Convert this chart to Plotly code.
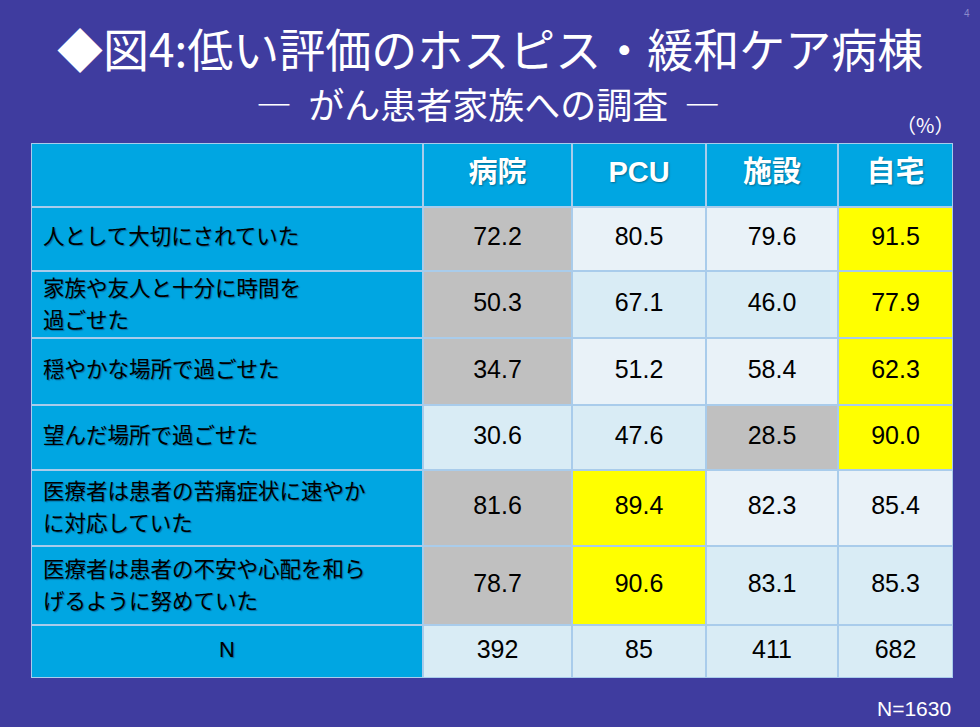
import plotly.graph_objects as go
from itertools import accumulate

# ---- data ----
columns = ["病院", "PCU", "施設", "自宅"]
items = [
    "人として大切にされていた",
    "家族や友人と十分に時間を<br>過ごせた",
    "穏やかな場所で過ごせた",
    "望んだ場所で過ごせた",
    "医療者は患者の苦痛症状に速やか<br>に対応していた",
    "医療者は患者の不安や心配を和ら<br>げるように努めていた",
]
hospital = [72.2, 50.3, 34.7, 30.6, 81.6, 78.7]
pcu = [80.5, 67.1, 51.2, 47.6, 89.4, 90.6]
facility = [79.6, 46.0, 58.4, 28.5, 82.3, 83.1]
home = [91.5, 77.9, 62.3, 90.0, 85.4, 85.3]
n_counts = [392, 85, 411, 682]
total_n = 1630
# highlighted (low = gray, high = yellow) column index per item row
low_col = [0, 0, 0, 2, 0, 0]
high_col = [3, 3, 3, 3, 1, 1]

# ---- layout / styling ----
W, H = 980, 727
TX0, TX1, TY0, TY1 = 31, 953, 143, 678
col_w = [392, 149, 134, 132, 115]
row_h = [64, 64, 67, 67, 65, 76, 79, 53]
LABEL_SIZE = 21.5
LINE_GAP = 32

BG = "#3F3C9F"
HEAD = "#00A6E2"
PALE = "#E9F2F8"
BAND = "#D9ECF5"
GRAY = "#C0C0C0"
YELLOW = "#FFFF00"
BORDER = "#A9CCEB"
palette = [HEAD, PALE, BAND, GRAY, YELLOW]

series = [hospital, pcu, facility, home]
nrows = len(items)

x_edges = [0] + list(accumulate(col_w))
y_edges = [0] + list(accumulate(row_h))
xc = [(x_edges[i] + x_edges[i + 1]) / 2 for i in range(len(col_w))]
yc = [(y_edges[i] + y_edges[i + 1]) / 2 for i in range(len(row_h))]

# colour codes for every cell
z = [[0] * len(col_w)]  # header row
for r in range(nrows):
    row = [0]
    for c in range(len(series)):
        if c == low_col[r]:
            row.append(3)
        elif c == high_col[r]:
            row.append(4)
        else:
            row.append(1 if r % 2 == 0 else 2)
    z.append(row)
z.append([0] + [2] * len(series))

n = len(palette) - 1
cscale = []
for i, col in enumerate(palette):
    lo = max(0, (i - 0.5) / n)
    hi = min(1, (i + 0.5) / n)
    cscale += [[lo, col], [hi, col]]

fig = go.Figure()
fig.add_trace(go.Heatmap(
    x=x_edges, y=y_edges, z=z,
    colorscale=cscale, zmin=0, zmax=n, showscale=False,
    xgap=2, ygap=2, hoverinfo="skip",
))

# header text
fig.add_trace(go.Scatter(
    x=xc[1:], y=[yc[0]] * len(columns), mode="text",
    text=[f"<b>{c}</b>" for c in columns], textposition="middle center",
    textfont=dict(family="Liberation Sans, Noto Sans CJK JP", size=29, color="white",
                  shadow="1px 1px 2px rgba(0,0,0,0.35)"),
    hoverinfo="skip", showlegend=False,
))

# value text
vx, vy, vt = [], [], []
for c, s in enumerate(series):
    for r in range(nrows):
        vx.append(xc[c + 1]); vy.append(yc[r + 1]); vt.append(f"{s[r]:.1f}")
    vx.append(xc[c + 1]); vy.append(yc[-1]); vt.append(str(n_counts[c]))
fig.add_trace(go.Scatter(
    x=vx, y=vy, mode="text", text=vt, textposition="middle center",
    textfont=dict(family="Liberation Sans, Arial", size=25, color="black"),
    hoverinfo="skip", showlegend=False,
))

# row labels (each line of a wrapped label as its own text)
lx, ly, lt = [], [], []
for r, label in enumerate(items):
    lines = label.split("<br>")
    k = len(lines)
    for j, line in enumerate(lines):
        lx.append(x_edges[0] + 12)
        ly.append(yc[r + 1] + (j - (k - 1) / 2) * LINE_GAP + (2 if k > 1 else 0))
        lt.append(line)
fig.add_trace(go.Scatter(
    x=lx, y=ly, mode="text", text=lt, textposition="middle right",
    textfont=dict(family="Noto Sans CJK JP", size=LABEL_SIZE, color="black",
                  shadow="1px 1px 1px rgba(0,40,80,0.45)"),
    hoverinfo="skip", showlegend=False,
))
fig.add_trace(go.Scatter(
    x=[xc[0]], y=[yc[-1]], mode="text", text=["N"], textposition="middle center",
    textfont=dict(family="Liberation Sans, Arial", size=22, color="black",
                  shadow="1px 1px 1px rgba(0,40,80,0.45)"),
    hoverinfo="skip", showlegend=False,
))

fig.add_annotation(text="◆図4:低い評価のホスピス・緩和ケア病棟", x=490 / W, y=1 - 47 / H,
                   xref="paper", yref="paper", showarrow=False,
                   font=dict(family="Noto Sans CJK JP", size=46, color="white"),
                   xanchor="center", yanchor="middle")
fig.add_annotation(text="―  がん患者家族への調査  ―", x=488 / W, y=1 - 103 / H,
                   xref="paper", yref="paper", showarrow=False,
                   font=dict(family="Noto Sans CJK JP", size=36, color="white"),
                   xanchor="center", yanchor="middle")
fig.add_annotation(text="（%）", x=956 / W, y=1 - 124 / H,
                   xref="paper", yref="paper", showarrow=False,
                   font=dict(family="Noto Sans CJK JP", size=20, color="white"),
                   xanchor="right", yanchor="middle")
fig.add_annotation(text=f"N={total_n}", x=953 / W, y=1 - 708 / H,
                   xref="paper", yref="paper", showarrow=False,
                   font=dict(family="Liberation Sans, Arial", size=21, color="white"),
                   xanchor="right", yanchor="middle")
fig.add_annotation(text="4", x=972 / W, y=1 - 14 / H,
                   xref="paper", yref="paper", showarrow=False,
                   font=dict(family="Liberation Sans, Arial", size=10, color="#8C8ACB"),
                   xanchor="right", yanchor="middle")

fig.update_xaxes(domain=[TX0 / W, TX1 / W], range=[x_edges[0], x_edges[-1]],
                 visible=False, fixedrange=True)
fig.update_yaxes(domain=[1 - TY1 / H, 1 - TY0 / H], range=[y_edges[-1], y_edges[0]],
                 visible=False, fixedrange=True)
fig.update_layout(
    width=W, height=H,
    margin=dict(l=0, r=0, t=0, b=0),
    paper_bgcolor=BG, plot_bgcolor=BORDER,
    showlegend=False,
)

fig.write_html("out.html", config={"displayModeBar": False},
               post_script="document.body.style.margin='0';")
